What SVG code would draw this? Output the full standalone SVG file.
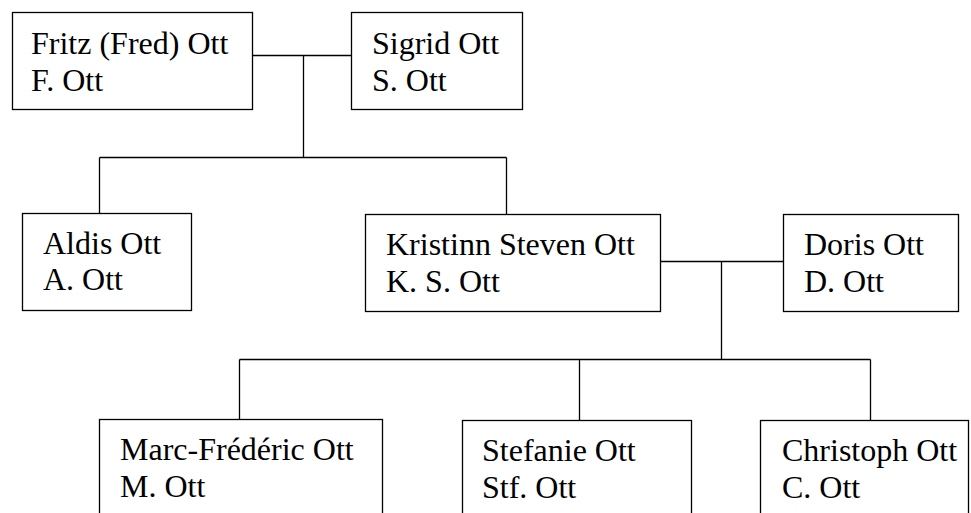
<svg xmlns="http://www.w3.org/2000/svg" width="971" height="513" viewBox="0 0 971 513">
<style>
.box{fill:#fff;stroke:#000;stroke-width:1.3}
.ln{fill:none;stroke:#000;stroke-width:1.3}
.t{font-family:'Liberation Serif',Times,'Times New Roman','DejaVu Serif',serif;font-size:32px;fill:#000}
</style>
<rect width="971" height="513" fill="#fff"/>
<g id="connectors">
<path class="ln" d="M252.5,55.5 H351.5 M303.5,55.5 V157.5 M99.5,157.5 H506.5 M99.5,157.5 V213.5 M506.5,157.5 V214.5"/>
<path class="ln" d="M660.5,261.5 H783.5 M721.5,261.5 V359.5 M239.5,359.5 H870.5 M239.5,359.5 V419.5 M579.5,359.5 V420.5 M870.5,359.5 V420.5"/>
</g>
<g id="fritz"><rect class="box" x="12.5" y="12.5" width="240" height="97"/><text class="t" x="31" y="54">Fritz (Fred) Ott</text><text class="t" x="31" y="90.5">F. Ott</text></g>
<g id="sigrid"><rect class="box" x="351.5" y="12.5" width="171" height="97"/><text class="t" x="372" y="54">Sigrid Ott</text><text class="t" x="372" y="90.5">S. Ott</text></g>
<g id="aldis"><rect class="box" x="22.5" y="213.5" width="169" height="97"/><text class="t" x="43" y="253.5">Aldis Ott</text><text class="t" x="43" y="290">A. Ott</text></g>
<g id="kristinn"><rect class="box" x="365.5" y="214.5" width="295" height="97"/><text class="t" x="386" y="255">Kristinn Steven Ott</text><text class="t" x="386" y="291.5">K. S. Ott</text></g>
<g id="doris"><rect class="box" x="783.5" y="214.5" width="175" height="97"/><text class="t" x="804" y="255">Doris Ott</text><text class="t" x="804" y="291.5">D. Ott</text></g>
<g id="marc"><rect class="box" x="99.5" y="419.5" width="283" height="120"/><text class="t" x="120" y="460">Marc-Frédéric Ott</text><text class="t" x="120" y="496.5">M. Ott</text></g>
<g id="stefanie"><rect class="box" x="462.5" y="420.5" width="229" height="120"/><text class="t" x="482" y="461">Stefanie Ott</text><text class="t" x="482" y="497.5">Stf. Ott</text></g>
<g id="christoph"><rect class="box" x="760.5" y="420.5" width="208" height="120"/><text class="t" x="782" y="461">Christoph Ott</text><text class="t" x="782" y="497.5">C. Ott</text></g>
</svg>
